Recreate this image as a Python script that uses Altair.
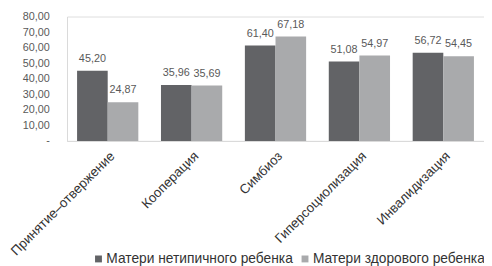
import altair as alt
import pandas as pd

categories = ["Принятие–отвержение", "Кооперация", "Симбиоз", "Гиперсоциолизация", "Инвалидизация"]
series = ["Матери нетипичного ребенка", "Матери здорового ребенка"]
atypical = [45.20, 35.96, 61.40, 51.08, 56.72]
healthy = [24.87, 35.69, 67.18, 54.97, 54.45]
y_ticks = [0, 10, 20, 30, 40, 50, 60, 70, 80]

rows = []
for c, a, h in zip(categories, atypical, healthy):
    rows.append({"cat": c, "series": series[0], "value": a, "label": f"{a:.2f}".replace(".", ",")})
    rows.append({"cat": c, "series": series[1], "value": h, "label": f"{h:.2f}".replace(".", ",")})
df = pd.DataFrame(rows)

xenc = alt.X("cat:N", sort=categories, title=None,
             scale=alt.Scale(paddingInner=0.27, paddingOuter=0.12),
             axis=alt.Axis(labelAngle=-45, labelAlign="right", labelBaseline="top",
                           labelFontSize=13.5, labelColor="#333333", labelFont="Arial",
                           ticks=False, domainColor="#d9d9d9", labelPadding=8,
                           labelOverlap=False))
yenc = alt.Y("value:Q", title=None,
             scale=alt.Scale(domain=[0, 80], nice=False),
             axis=alt.Axis(values=y_ticks,
                           labelExpr="datum.value == 0 ? '-' : replace(format(datum.value, '.2f'), '.', ',')",
                           grid=False, ticks=False, domainColor="#d9d9d9",
                           labelFontSize=11, labelColor="#595959", labelFont="Arial",
                           labelPadding=18, labelOverlap=False))
color = alt.Color("series:N", sort=series,
                  scale=alt.Scale(domain=series, range=["#626366", "#a9aaac"]),
                  legend=alt.Legend(orient="none", legendX=25, legendY=239.5,
                                    direction="horizontal", title=None, symbolType="square",
                                    symbolSize=49, labelFontSize=14, labelColor="#333333",
                                    labelFont="Arial", columnPadding=5, symbolOffset=0,
                                    labelOffset=1, padding=0, symbolStrokeWidth=0,
                                    labelLimit=0))

base = alt.Chart(df).encode(
    x=xenc,
    xOffset=alt.XOffset("series:N", sort=series),
    y=yenc,
)

bars = base.mark_bar().encode(color=color)

text = base.mark_text(dy=-12, fontSize=11, color="#595959", font="Arial").encode(
    text="label:N",
)

chart = (bars + text).properties(
    width=424, height=126.5,
    autosize=alt.AutoSizeParams(type="none"),
    padding={"left": 60, "top": 6.5, "right": 0, "bottom": 125},
).configure_view(stroke=None).configure(background="white")

chart.save("out.html", embed_options={"renderer": "svg", "actions": False})
